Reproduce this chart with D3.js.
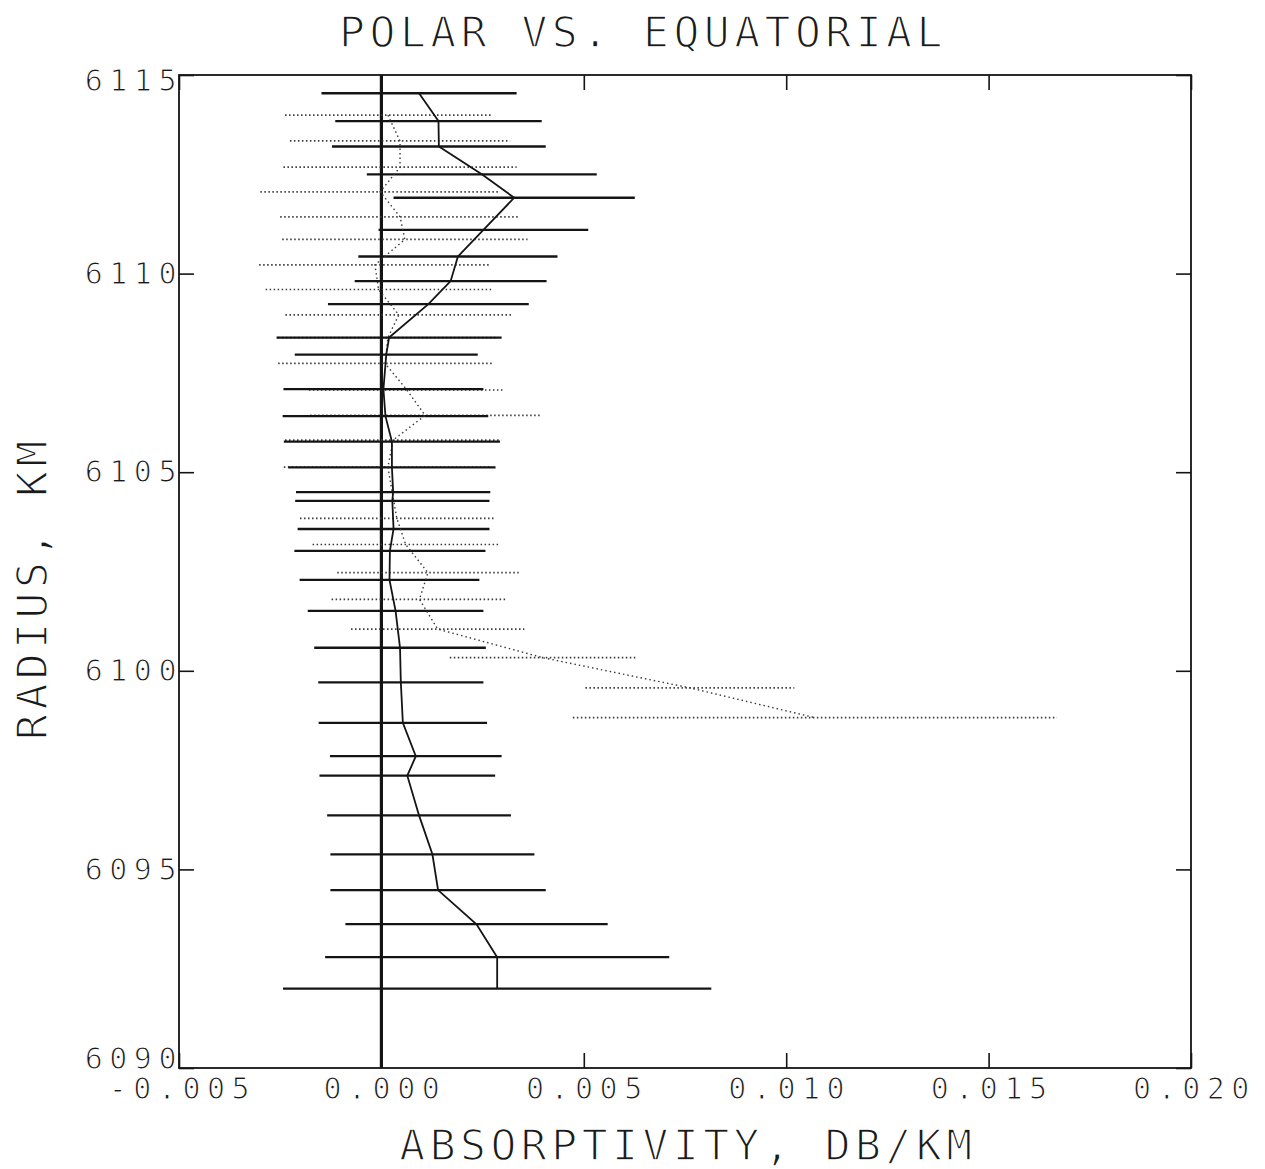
<!DOCTYPE html>
<html>
<head>
<meta charset="utf-8">
<script src="https://cdn.jsdelivr.net/npm/d3@7"></script>
<style>
  html, body { margin: 0; padding: 0; background: #fff; }
  svg { display: block; }
  text { font-family: "DejaVu Sans Mono", "Liberation Mono", monospace; fill: #1a1a1a; }
  /* the plotter font is thin : erode the glyphs with a white stroke painted after the fill */
  text.big { stroke: #fff; stroke-width: 1.5px; }
  .axis text { stroke: #fff; stroke-width: 1.1px; }
</style>
</head>
<body>
<svg id="chart" width="1265" height="1169"></svg>
<script>
//------------------------------------------------------------------------------

const dLog = console.debug;

/* solid profile (with solid error bars) : radius km, absorptivity dB/km, +/- error */
const polarRadius = [
  6114.54, 6113.84, 6113.20, 6112.50, 6111.91, 6111.10, 6110.43, 6109.81,
  6109.23, 6108.39, 6107.96, 6107.09, 6106.41, 6105.77, 6105.12, 6104.50,
  6104.28, 6103.57, 6103.02, 6102.29, 6101.51, 6100.58, 6099.71, 6098.69,
  6097.85, 6097.36, 6096.36, 6095.38, 6094.48, 6093.62, 6092.79, 6092.00
];
const polarAbs = [
  0.00093, 0.00141, 0.00142, 0.00248, 0.00328, 0.00252, 0.00189, 0.00171,
  0.00116, 0.00019, 0.00012, 0.00005, 0.00010, 0.00026, 0.00026, 0.00029,
  0.00027, 0.00030, 0.00021, 0.00020, 0.00035, 0.00046, 0.00048, 0.00053,
  0.00085, 0.00064, 0.00093, 0.00126, 0.00140, 0.00235, 0.00286, 0.00286
];
const polarErr = [
  0.00241, 0.00255, 0.00264, 0.00284, 0.00298, 0.00259, 0.00246, 0.00237,
  0.00248, 0.00278, 0.00226, 0.00247, 0.00254, 0.00267, 0.00256, 0.00240,
  0.00240, 0.00237, 0.00236, 0.00222, 0.00217, 0.00212, 0.00204, 0.00208,
  0.00212, 0.00217, 0.00227, 0.00252, 0.00266, 0.00324, 0.00425, 0.00529
];

/* dotted profile (with dotted error bars) */
const equatorRadius = [
  6113.99, 6113.34, 6112.68, 6112.06, 6111.43, 6110.86, 6110.22, 6109.60,
  6108.96, 6108.39, 6107.74, 6107.07, 6106.43, 6105.81, 6105.13, 6103.84,
  6103.18, 6102.47, 6101.80, 6101.05, 6100.33, 6099.57, 6098.82
];
const equatorAbs = [
  0.00016, 0.00046, 0.00046, -0.00003, 0.00046, 0.00058, -0.00016, -0.00007,
  0.00043, 0.00016, 0.00009, 0.00063, 0.00108, 0.00029, 0.00016, 0.00038,
  0.00060, 0.00115, 0.00094, 0.00139, 0.00399, 0.00762, 0.01071
];
const equatorErr = [
  0.00254, 0.00272, 0.00288, 0.00296, 0.00296, 0.00303, 0.00286, 0.00279,
  0.00280, 0.00272, 0.00264, 0.00242, 0.00284, 0.00267, 0.00257, 0.00239,
  0.00230, 0.00224, 0.00217, 0.00214, 0.00230, 0.00258, 0.00598
];

const xTicks = [-0.005, 0.000, 0.005, 0.010, 0.015, 0.020];
const yTicks = [6090, 6095, 6100, 6105, 6110, 6115];

const titleText = 'POLAR VS. EQUATORIAL',
      xTitle = 'ABSORPTIVITY, DB/KM',
      yTitle = 'RADIUS, KM';

//------------------------------------------------------------------------------

const
frame = {left: 179, right: 1191, top: 75, bottom: 1068},
ink = '#141414',
tickLen = 15;

function zipSeries(radius, abs, err) {
  return radius.map((r, i) => ({r, v: abs[i], e: err[i]}));
}

function render() {
  const
  svg = d3.select('#chart'),
  x = d3.scaleLinear().domain([xTicks[0], xTicks[xTicks.length - 1]])
    .range([frame.left, frame.right]),
  y = d3.scaleLinear().domain([yTicks[0], yTicks[yTicks.length - 1]])
    .range([frame.bottom, frame.top]),
  polar = zipSeries(polarRadius, polarAbs, polarErr),
  equator = zipSeries(equatorRadius, equatorAbs, equatorErr),
  fmt = d => d.toFixed(3);

  // title
  svg.append('text')
    .attr('class', 'big')
    .attr('x', 643).attr('y', 47)
    .attr('text-anchor', 'middle')
    .style('font-size', '43px').style('letter-spacing', '4.5px')
    .text(titleText);

  // axes : ticks point inwards, labels only bottom and left
  const
  gB = svg.append('g').attr('class', 'axis axis-bottom')
    .attr('transform', `translate(0,${frame.bottom})`)
    .call(d3.axisBottom(x).tickValues(xTicks).tickFormat(fmt)
          .tickSizeInner(-tickLen).tickSizeOuter(0).tickPadding(10)),
  gL = svg.append('g').attr('class', 'axis axis-left')
    .attr('transform', `translate(${frame.left},0)`)
    .call(d3.axisLeft(y).tickValues(yTicks).tickFormat(d3.format('d'))
          .tickSizeInner(-tickLen).tickSizeOuter(0).tickPadding(-4)),
  gT = svg.append('g').attr('class', 'axis axis-top')
    .attr('transform', `translate(0,${frame.top})`)
    .call(d3.axisTop(x).tickValues(xTicks).tickFormat('')
          .tickSizeInner(-tickLen).tickSizeOuter(0)),
  gR = svg.append('g').attr('class', 'axis axis-right')
    .attr('transform', `translate(${frame.right},0)`)
    .call(d3.axisRight(y).tickValues(yTicks).tickFormat('')
          .tickSizeInner(-tickLen).tickSizeOuter(0));

  [gB, gL, gT, gR].forEach(g => {
    g.select('.domain').remove();
    g.selectAll('.tick line').attr('stroke', ink).attr('stroke-width', 1.6);
    g.selectAll('text')
      .style('font-size', '30px').style('letter-spacing', '6.5px')
      .attr('fill', ink);
  });
  gB.selectAll('text').attr('dx', '3px');
  // end labels sit inside the frame ends, as on the plotter output
  gL.selectAll('.tick text').filter(d => d === yTicks[yTicks.length - 1]).attr('dy', '0.5em');
  gL.selectAll('.tick text').filter(d => d === yTicks[0]).attr('dy', '0.0em');

  // frame
  svg.append('rect')
    .attr('x', frame.left).attr('y', frame.top)
    .attr('width', frame.right - frame.left).attr('height', frame.bottom - frame.top)
    .attr('fill', 'none').attr('stroke', ink).attr('stroke-width', 1.8);

  // zero line
  svg.append('line')
    .attr('x1', x(0)).attr('x2', x(0))
    .attr('y1', frame.top).attr('y2', frame.bottom)
    .attr('stroke', ink).attr('stroke-width', 3.2);

  // axis titles
  svg.append('text')
    .attr('class', 'big')
    .attr('x', 688).attr('y', 1160)
    .attr('text-anchor', 'middle')
    .style('font-size', '43px').style('letter-spacing', '4.5px')
    .text(xTitle);
  svg.append('text')
    .attr('class', 'big')
    .attr('transform', 'translate(47,588) rotate(-90)')
    .attr('text-anchor', 'middle')
    .style('font-size', '43px').style('letter-spacing', '4.5px')
    .text(yTitle);

  // error bars
  const gBars = svg.append('g').attr('class', 'error-bars');
  gBars.selectAll('line.eq')
    .data(equator)
    .enter().append('line')
    .attr('class', 'eq')
    .attr('x1', d => x(d.v - d.e)).attr('x2', d => x(d.v + d.e))
    .attr('y1', d => y(d.r)).attr('y2', d => y(d.r))
    .attr('stroke', '#3a3a3a').attr('stroke-width', 1.7)
    .attr('stroke-dasharray', '1.5,2.5');
  gBars.selectAll('line.po')
    .data(polar)
    .enter().append('line')
    .attr('class', 'po')
    .attr('x1', d => x(d.v - d.e)).attr('x2', d => x(d.v + d.e))
    .attr('y1', d => y(d.r)).attr('y2', d => y(d.r))
    .attr('stroke', ink).attr('stroke-width', 2.3);

  // profiles
  const line = d3.line().x(d => x(d.v)).y(d => y(d.r));
  svg.append('path')
    .datum(equator)
    .attr('d', line)
    .attr('fill', 'none').attr('stroke', '#3a3a3a').attr('stroke-width', 1.4)
    .attr('stroke-dasharray', '1.5,3');
  svg.append('path')
    .datum(polar)
    .attr('d', line)
    .attr('fill', 'none').attr('stroke', ink).attr('stroke-width', 1.8);

  dLog('render', polar.length, equator.length);
}

render();
</script>
</body>
</html>
